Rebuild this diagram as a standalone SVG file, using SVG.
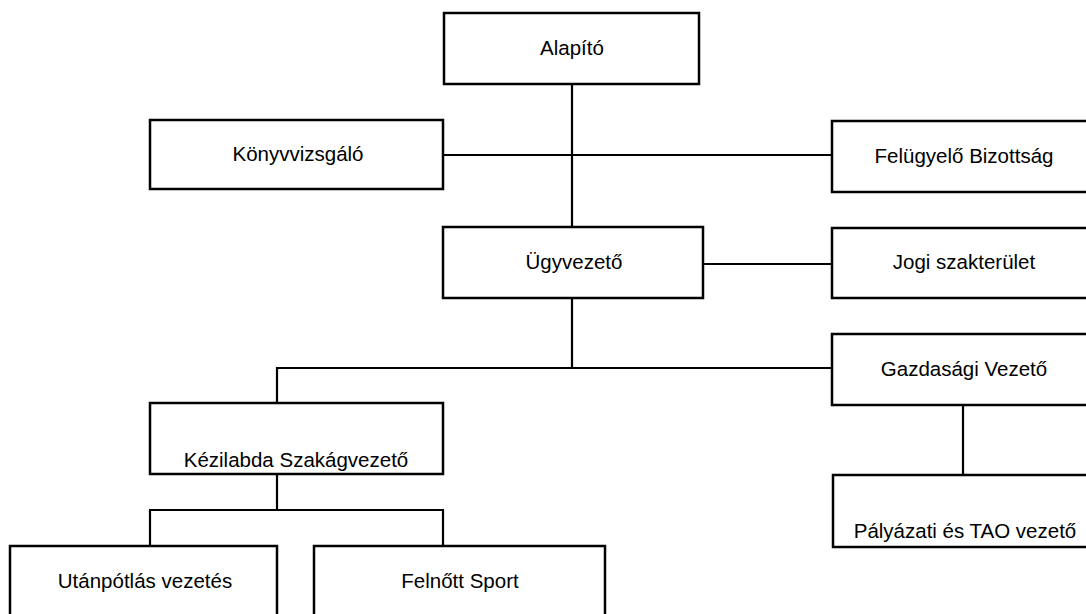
<svg xmlns="http://www.w3.org/2000/svg" width="1086" height="614" viewBox="0 0 1086 614">
<style>
.box{fill:#fff;stroke:#000;stroke-width:2.5}
.lbl{font-family:"Liberation Sans",Arial,sans-serif;font-size:20.5px;fill:#000;text-anchor:middle}
.con{fill:none;stroke:#000;stroke-width:2.2}
</style>
<rect width="1086" height="614" fill="#fff"/>
<g id="connectors">
<line class="con" x1="572" y1="84" x2="572" y2="228"/>
<line class="con" x1="443" y1="155" x2="832" y2="155"/>
<line class="con" x1="703" y1="264" x2="832" y2="264"/>
<polyline class="con" points="572,298 572,368 277,368 277,403"/>
<line class="con" x1="572" y1="368" x2="832" y2="368"/>
<line class="con" x1="277" y1="474" x2="277" y2="510"/>
<polyline class="con" points="150,545 150,510 443,510 443,545"/>
<line class="con" x1="963" y1="405" x2="963" y2="475"/>
</g>
<g id="alapito"><rect class="box" x="444" y="13" width="255" height="71"/><text class="lbl" x="572" y="55">Alapító</text></g>
<g id="konyvvizsgalo"><rect class="box" x="150" y="120" width="293" height="69"/><text class="lbl" x="298" y="161">Könyvvizsgáló</text></g>
<g id="felugyelo"><rect class="box" x="832" y="121" width="260" height="71"/><text class="lbl" x="964" y="163">Felügyelő Bizottság</text></g>
<g id="ugyvezeto"><rect class="box" x="443" y="227" width="260" height="71"/><text class="lbl" x="574" y="269">Ügyvezető</text></g>
<g id="jogi"><rect class="box" x="832" y="228" width="260" height="70"/><text class="lbl" x="964" y="269">Jogi szakterület</text></g>
<g id="gazdasagi"><rect class="box" x="832" y="334" width="260" height="71"/><text class="lbl" x="964" y="376">Gazdasági Vezető</text></g>
<g id="kezilabda"><rect class="box" x="150" y="403" width="293" height="71"/><text class="lbl" x="296" y="467">Kézilabda Szakágvezető</text></g>
<g id="palyazati"><rect class="box" x="833" y="475" width="259" height="72"/><text class="lbl" x="965" y="538">Pályázati és TAO vezető</text></g>
<g id="utanpotlas"><rect class="box" x="10" y="546" width="267" height="80"/><text class="lbl" x="145" y="588">Utánpótlás vezetés</text></g>
<g id="felnott"><rect class="box" x="314" y="546" width="291" height="80"/><text class="lbl" x="460" y="588">Felnőtt Sport</text></g>
</svg>
